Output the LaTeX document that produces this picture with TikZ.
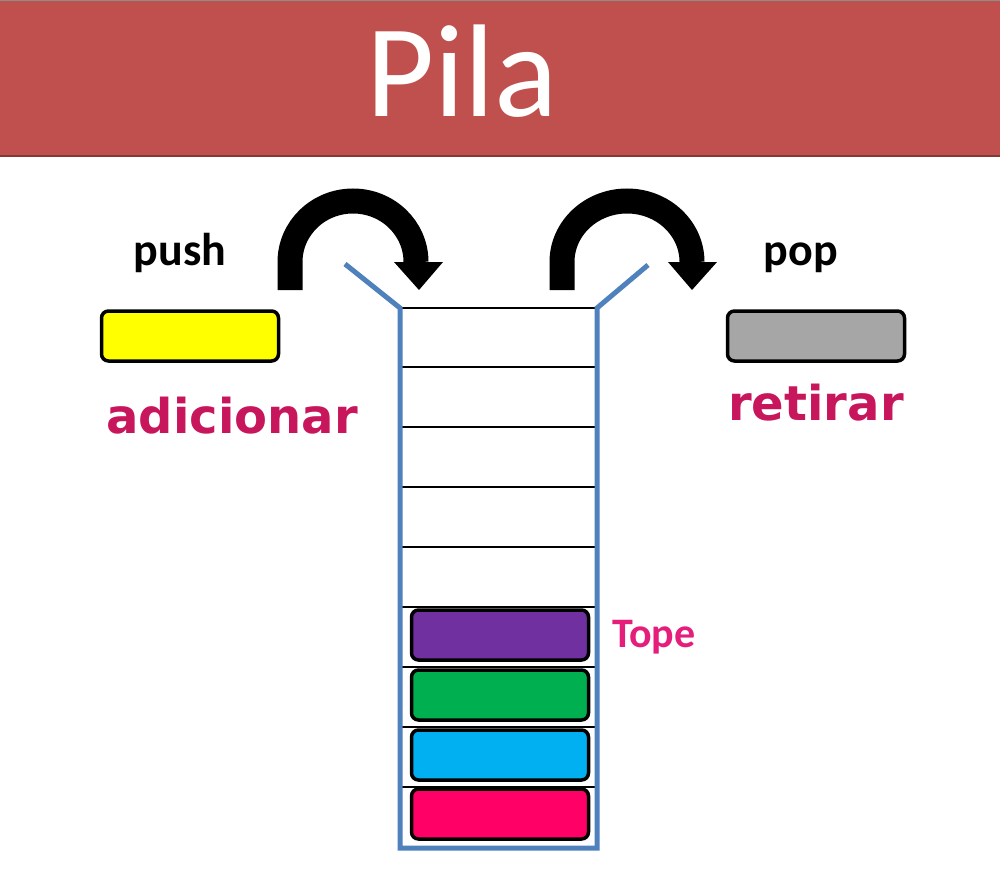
\documentclass[tikz,border=0pt]{standalone}
\usepackage{fontspec}
\setmainfont{Carlito}
\newfontfamily\dvs{DejaVu Sans}
\usetikzlibrary{calc}
\definecolor{titlered}{RGB}{192,80,77}
\definecolor{stackblue}{RGB}{79,129,189}
\definecolor{cpurple}{RGB}{112,48,160}
\definecolor{cgreen}{RGB}{0,176,80}
\definecolor{cblue}{RGB}{0,176,240}
\definecolor{cpink}{RGB}{255,0,102}
\definecolor{cyellow}{RGB}{255,255,0}
\definecolor{cgrey}{RGB}{166,166,166}
\definecolor{magtext}{RGB}{200,22,92}
\definecolor{topepink}{RGB}{228,30,122}
\tikzset{
  block/.style={draw=black, line width=3.5pt, rounded corners=7pt, minimum width=177pt, minimum height=50pt, inner sep=0pt},
  rowline/.style={draw=black, line width=1.3pt},
  wall/.style={draw=stackblue, line width=5pt, line join=miter},
  bigarrow/.style={draw=black, line width=25pt},
  smalllabel/.style={font=\bfseries\fontsize{46}{50}\selectfont, anchor=base, inner sep=0pt},
  pinklabel/.style={font=\dvs\bfseries\fontsize{48}{52}\selectfont, text=magtext, anchor=base, inner sep=0pt},
}
\begin{document}
\begin{tikzpicture}[x=1pt,y=-1pt]
\useasboundingbox (0,0) rectangle (1000,880);
\fill[white] (0,0) rectangle (1000,880);
% title bar
\fill[titlered] (0,0) rectangle (1000,156);
\draw[black!45, line width=1.5pt] (0,0.75) -- (1000,0.75);
\draw[titlered!70!black, line width=2pt] (0,156) -- (1000,156);
\node[font=\fontsize{132}{140}\selectfont, text=white, anchor=base, inner sep=0pt] (title) at (462,117) {Pila};
% stack rows
\foreach \y in {308,367,427,487,547,607,667,727,787}{
  \draw[rowline] (400,\y) -- (597,\y);
}
% coloured blocks
\node[block, fill=cpurple] (b1) at (500,635) {};
\node[block, fill=cgreen] (b2) at (500,695) {};
\node[block, fill=cblue] (b3) at (500,755) {};
\node[block, fill=cpink] (b4) at (500,814) {};
% stack walls
\coordinate (tl) at (345,264);
\coordinate (tr) at (648,265);
\draw[wall] (tl) -- (400,308) -- (400,848) -- (597,848) -- (597,308) -- (tr);
% top label
\node[font=\bfseries\fontsize{42}{46}\selectfont, text=topepink, anchor=base west, inner sep=0pt] (tope) at (612,647) {Tope};
% push / pop boxes
\node[block, fill=cyellow] (yel) at (190,336) {};
\node[block, fill=cgrey] (gry) at (816,336) {};
\node[smalllabel] (push) at (180,265) {push};
\node[smalllabel] (pop) at (801,265) {pop};
\node[pinklabel] (adic) at (232,433) {adicionar};
\node[pinklabel] (ret) at (816,420) {retirar};
% curved arrows
\coordinate (pushstart) at (290,290);
\coordinate (popstart) at (562,290);
\draw[bigarrow] (pushstart) -- (290,262) arc (180:360:63 and 61);
\fill[black] (394,262) -- (443,262) -- (419,290) -- cycle;
\draw[bigarrow] (popstart) -- (562,262) arc (180:360:65 and 61);
\fill[black] (668,262) -- (717,262) -- (692,290) -- cycle;
\end{tikzpicture}
\end{document}
